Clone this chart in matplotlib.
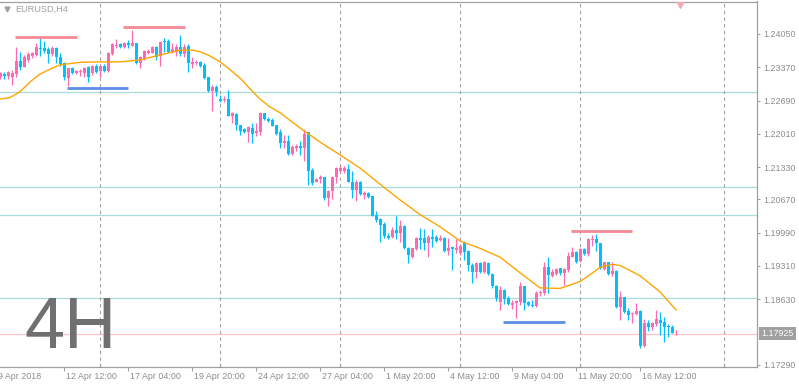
import matplotlib.pyplot as plt
from matplotlib.transforms import blended_transform_factory

plt.rcParams['font.family'] = ['Liberation Sans', 'DejaVu Sans']

# EURUSD H4 candles, one per 4 hours, oldest first
opens = [1.2318, 1.2323, 1.2319, 1.2318, 1.2323, 1.2350, 1.2338, 1.2352, 1.2361, 1.2362,
         1.2376, 1.2376, 1.2374, 1.2364, 1.2376, 1.2357, 1.2345, 1.2315, 1.2335, 1.2326,
         1.2327, 1.2325, 1.2338, 1.2326, 1.2340, 1.2329, 1.2340, 1.2329, 1.2364, 1.2380,
         1.2384, 1.2378, 1.2387, 1.2381, 1.2386, 1.2346, 1.2354, 1.2366, 1.2367, 1.2378,
         1.2359, 1.2391, 1.2391, 1.2369, 1.2369, 1.2378, 1.2364, 1.2381, 1.2344, 1.2345,
         1.2348, 1.2342, 1.2317, 1.2288, 1.2297, 1.2272, 1.2270, 1.2272, 1.2238, 1.2241,
         1.2219, 1.2210, 1.2204, 1.2213, 1.2202, 1.2205, 1.2243, 1.2231, 1.2230, 1.2218,
         1.2204, 1.2183, 1.2187, 1.2159, 1.2173, 1.2177, 1.2171, 1.2204, 1.2128, 1.2103,
         1.2108, 1.2113, 1.2070, 1.2085, 1.2112, 1.2124, 1.2126, 1.2129, 1.2103, 1.2086,
         1.2103, 1.2076, 1.2080, 1.2073, 1.2035, 1.2027, 1.2017, 1.1992, 1.1991, 1.2004,
         1.1998, 1.2013, 1.1968, 1.1949, 1.1965, 1.1989, 1.1989, 1.1978, 1.1991, 1.1991,
         1.1984, 1.1988, 1.1962, 1.1969, 1.1964, 1.1957, 1.1978, 1.1961, 1.1933, 1.1919,
         1.1936, 1.1919, 1.1936, 1.1915, 1.1890, 1.1858, 1.1882, 1.1866, 1.1852, 1.1856,
         1.1858, 1.1889, 1.1858, 1.1851, 1.1849, 1.1875, 1.1875, 1.1929, 1.1911, 1.1914,
         1.1926, 1.1917, 1.1923, 1.1950, 1.1959, 1.1942, 1.1965, 1.1955, 1.1984, 1.1986,
         1.1977, 1.1925, 1.1938, 1.1914, 1.1921, 1.1848, 1.1867, 1.1838, 1.1832, 1.1832,
         1.1838, 1.1767, 1.1814, 1.1807, 1.1812, 1.1820, 1.1817, 1.1808, 1.1807, 1.1791]
highs = [1.2328, 1.2327, 1.2330, 1.2331, 1.2379, 1.2368, 1.2362, 1.2369, 1.2369, 1.2386,
         1.2398, 1.2391, 1.2379, 1.2381, 1.2378, 1.2366, 1.2347, 1.2336, 1.2338, 1.2331,
         1.2334, 1.2338, 1.2340, 1.2342, 1.2343, 1.2342, 1.2344, 1.2368, 1.2386, 1.2395,
         1.2386, 1.2389, 1.2393, 1.2413, 1.2387, 1.2360, 1.2372, 1.2374, 1.2381, 1.2381,
         1.2391, 1.2396, 1.2394, 1.2386, 1.2385, 1.2402, 1.2385, 1.2385, 1.2357, 1.2352,
         1.2350, 1.2345, 1.2318, 1.2301, 1.2301, 1.2280, 1.2278, 1.2291, 1.2245, 1.2243,
         1.2220, 1.2213, 1.2216, 1.2224, 1.2224, 1.2245, 1.2244, 1.2236, 1.2233, 1.2219,
         1.2210, 1.2198, 1.2198, 1.2178, 1.2181, 1.2187, 1.2210, 1.2205, 1.2131, 1.2111,
         1.2117, 1.2113, 1.2087, 1.2115, 1.2134, 1.2138, 1.2135, 1.2139, 1.2124, 1.2107,
         1.2105, 1.2085, 1.2083, 1.2074, 1.2043, 1.2028, 1.2020, 1.1999, 1.2011, 1.2033,
         1.2025, 1.2015, 1.1970, 1.1968, 1.1991, 1.2009, 1.2006, 1.1994, 1.2006, 1.1994,
         1.1994, 1.1991, 1.1989, 1.1970, 1.1987, 1.1974, 1.1982, 1.1964, 1.1936, 1.1938,
         1.1938, 1.1942, 1.1938, 1.1916, 1.1892, 1.1889, 1.1883, 1.1869, 1.1861, 1.1861,
         1.1898, 1.1890, 1.1859, 1.1861, 1.1879, 1.1882, 1.1938, 1.1949, 1.1924, 1.1926,
         1.1927, 1.1926, 1.1960, 1.1969, 1.1961, 1.1967, 1.1967, 1.1989, 1.1994, 1.1997,
         1.1978, 1.1940, 1.1940, 1.1938, 1.1923, 1.1879, 1.1868, 1.1844, 1.1836, 1.1855,
         1.1841, 1.1822, 1.1820, 1.1817, 1.1840, 1.1836, 1.1827, 1.1812, 1.1810, 1.1800]
lows = [1.2312, 1.2313, 1.2312, 1.2301, 1.2318, 1.2331, 1.2338, 1.2348, 1.2355, 1.2361,
        1.2359, 1.2366, 1.2345, 1.2360, 1.2345, 1.2340, 1.2311, 1.2299, 1.2323, 1.2323,
        1.2320, 1.2318, 1.2306, 1.2321, 1.2325, 1.2317, 1.2328, 1.2327, 1.2362, 1.2377,
        1.2376, 1.2376, 1.2376, 1.2381, 1.2344, 1.2335, 1.2352, 1.2364, 1.2366, 1.2352,
        1.2340, 1.2369, 1.2366, 1.2367, 1.2360, 1.2360, 1.2357, 1.2328, 1.2335, 1.2342,
        1.2338, 1.2312, 1.2287, 1.2248, 1.2278, 1.2266, 1.2265, 1.2237, 1.2224, 1.2209,
        1.2198, 1.2202, 1.2185, 1.2182, 1.2197, 1.2198, 1.2229, 1.2225, 1.2216, 1.2198,
        1.2171, 1.2171, 1.2158, 1.2158, 1.2166, 1.2157, 1.2146, 1.2096, 1.2096, 1.2102,
        1.2101, 1.2065, 1.2053, 1.2068, 1.2101, 1.2122, 1.2121, 1.2102, 1.2069, 1.2064,
        1.2076, 1.2067, 1.2069, 1.2032, 1.2020, 1.1980, 1.1989, 1.1987, 1.1989, 1.1987,
        1.1980, 1.1965, 1.1937, 1.1947, 1.1964, 1.1965, 1.1964, 1.1950, 1.1970, 1.1980,
        1.1982, 1.1960, 1.1953, 1.1923, 1.1957, 1.1953, 1.1943, 1.1921, 1.1897, 1.1907,
        1.1917, 1.1917, 1.1912, 1.1885, 1.1859, 1.1841, 1.1854, 1.1851, 1.1842, 1.1824,
        1.1851, 1.1841, 1.1849, 1.1848, 1.1848, 1.1870, 1.1872, 1.1875, 1.1909, 1.1912,
        1.1912, 1.1892, 1.1919, 1.1949, 1.1937, 1.1939, 1.1953, 1.1952, 1.1972, 1.1962,
        1.1924, 1.1923, 1.1912, 1.1910, 1.1846, 1.1820, 1.1835, 1.1820, 1.1815, 1.1830,
        1.1764, 1.1766, 1.1798, 1.1799, 1.1808, 1.1790, 1.1776, 1.1786, 1.1793, 1.1790]
closes = [1.2325, 1.2319, 1.2328, 1.2326, 1.2350, 1.2338, 1.2357, 1.2364, 1.2366, 1.2378,
          1.2374, 1.2371, 1.2364, 1.2377, 1.2357, 1.2344, 1.2317, 1.2335, 1.2325, 1.2330,
          1.2330, 1.2335, 1.2317, 1.2340, 1.2327, 1.2340, 1.2329, 1.2366, 1.2384, 1.2383,
          1.2378, 1.2386, 1.2383, 1.2387, 1.2346, 1.2357, 1.2370, 1.2370, 1.2378, 1.2357,
          1.2388, 1.2388, 1.2369, 1.2374, 1.2379, 1.2364, 1.2379, 1.2345, 1.2348, 1.2348,
          1.2339, 1.2315, 1.2288, 1.2297, 1.2287, 1.2268, 1.2272, 1.2238, 1.2243, 1.2218,
          1.2207, 1.2204, 1.2214, 1.2200, 1.2207, 1.2243, 1.2231, 1.2227, 1.2217, 1.2200,
          1.2183, 1.2187, 1.2159, 1.2175, 1.2176, 1.2171, 1.2201, 1.2125, 1.2101, 1.2109,
          1.2112, 1.2070, 1.2085, 1.2113, 1.2131, 1.2131, 1.2132, 1.2103, 1.2086, 1.2103,
          1.2078, 1.2081, 1.2072, 1.2033, 1.2024, 1.2015, 1.1992, 1.1989, 1.2004, 1.1998,
          1.2013, 1.1967, 1.1953, 1.1967, 1.1989, 1.1984, 1.1978, 1.1991, 1.1986, 1.1982,
          1.1988, 1.1962, 1.1967, 1.1965, 1.1967, 1.1972, 1.1960, 1.1932, 1.1919, 1.1936,
          1.1919, 1.1938, 1.1914, 1.1889, 1.1865, 1.1882, 1.1863, 1.1854, 1.1856, 1.1860,
          1.1889, 1.1856, 1.1851, 1.1849, 1.1876, 1.1878, 1.1929, 1.1912, 1.1918, 1.1924,
          1.1916, 1.1924, 1.1951, 1.1960, 1.1939, 1.1965, 1.1955, 1.1986, 1.1986, 1.1977,
          1.1926, 1.1939, 1.1914, 1.1921, 1.1848, 1.1867, 1.1837, 1.1830, 1.1834, 1.1838,
          1.1767, 1.1815, 1.1807, 1.1814, 1.1822, 1.1815, 1.1807, 1.1806, 1.1794, 1.17925]

# moving average read at a few bars
ma_bars = [0, 2.5, 5, 7.5, 10, 12.5, 15, 20, 25, 30, 35, 40, 45, 48, 50, 52.5, 55, 57.5,
           60, 62.5, 65, 67.5, 70, 75, 80, 85, 90, 95, 100, 105, 110, 115, 120, 125, 130,
           135, 140, 145, 148, 150, 153, 155, 160, 165, 169]
ma_vals = [1.2272, 1.2275, 1.2287, 1.2307, 1.2323, 1.2333, 1.2342, 1.2347, 1.2348, 1.2348,
           1.2352, 1.2362, 1.2372, 1.2372, 1.2369, 1.2360, 1.2348, 1.2332, 1.2315, 1.2293,
           1.2272, 1.2256, 1.2244, 1.2213, 1.2184, 1.2158, 1.2131, 1.2098, 1.2066, 1.2036,
           1.2011, 1.1982, 1.1967, 1.1949, 1.1917, 1.1886, 1.1885, 1.1899, 1.1916, 1.1928,
           1.1934, 1.1932, 1.1911, 1.1878, 1.1841]

levels = [1.2287, 1.2092, 1.2035, 1.1866]
bid = 1.17925

res_prices = [1.2399, 1.2419, 1.2003]
res_from = [3.75, 30.75, 142.75]
res_to = [19.25, 46.25, 158.0]
sup_prices = [1.2295, 1.1817]
sup_from = [16.7, 125.7]
sup_to = [32.0, 141.25]

price_ticks = [1.24050, 1.23370, 1.22690, 1.22010, 1.21330, 1.20670,
               1.19990, 1.19310, 1.18630, 1.17290]
date_bars = [-0.8, 16, 32, 48, 64, 80, 96, 112, 128, 144, 160]
date_labels = ['9 Apr 2018', '12 Apr 12:00', '17 Apr 04:00', '19 Apr 20:00',
               '24 Apr 12:00', '27 Apr 04:00', '1 May 20:00', '4 May 12:00',
               '9 May 04:00', '11 May 20:00', '16 May 12:00']
week_starts = [25, 55, 85, 115, 145, 181]

W, H = 799, 388
fig = plt.figure(figsize=(W / 100, H / 100), dpi=100)
ax = fig.add_axes([0, 1 - 367 / H, 757 / W, 365.5 / H])
ax.set_xlim(0, 757 / 4)
ax.set_ylim(1.17244, 1.24714)

bull, bear = '#FF69B4', '#00BFFF'
for i in range(len(opens)):
    o, h, l, c = opens[i], highs[i], lows[i], closes[i]
    col = bull if c >= o else bear
    ax.vlines(i, l, h, color=col, lw=0.9, zorder=3)
    ax.bar(i, max(abs(c - o), 0.0001), bottom=min(o, c), width=0.75,
           color=col, lw=0, zorder=4)

ax.plot(ma_bars, ma_vals, color='#FFA500', lw=1.0, zorder=5)

for p in levels:
    ax.axhline(p, color='#a8dede', lw=0.9, zorder=1)
ax.axhline(bid, color='#ffc0cb', lw=0.9, zorder=1)
for w in week_starts:
    ax.axvline(w, color='#a0a0a0', lw=0.8, ls=(0, (3, 3)), zorder=1)

for p, a, b in zip(res_prices, res_from, res_to):
    ax.hlines(p, a, b, color='#f48a94', lw=2.0, zorder=6)
for p, a, b in zip(sup_prices, sup_from, sup_to):
    ax.hlines(p, a, b, color='#5b8de6', lw=2.0, zorder=6)

ax.spines['left'].set_visible(False)
for s in ['top', 'right', 'bottom']:
    ax.spines[s].set_color('#a0a0a0')
    ax.spines[s].set_linewidth(0.9)

ax.yaxis.tick_right()
ax.set_yticks(price_ticks)
ax.set_yticklabels(['%.5f' % p for p in price_ticks])
ax.tick_params(axis='y', direction='out', length=2.5, width=0.8, color='#a0a0a0',
               labelcolor='#8c8c8c', labelsize=6.4, pad=2)

ax.set_xticks(date_bars[1:])
ax.set_xticklabels([])
ax.set_xticks(week_starts, minor=True)
ax.tick_params(axis='x', which='major', direction='out', length=3, width=0.8, color='#a0a0a0')
ax.tick_params(axis='x', which='minor', direction='in', length=3, width=0.8, color='#a0a0a0')
trans = blended_transform_factory(ax.transData, ax.transAxes)
for b, lab in zip(date_bars, date_labels):
    ax.text(b + 0.4, -0.025, lab, transform=trans, ha='left', va='center',
            fontsize=6.4, color='#8c8c8c', clip_on=False)

# current price box
fig.text(761 / W, 1 - 333.5 / H, '%.5f' % bid, color='white', fontsize=6.4, va='center',
         ha='left', bbox=dict(boxstyle='square,pad=0.25', fc='#a0a0a0', ec='none'))

fig.text(15 / W, 1 - 9 / H, 'EURUSD,H4', color='#a0a0a0', fontsize=6.6, va='center')
ax.plot([6.5 / 757], [1 - 7.5 / 365.5], marker='v', ms=3.5, color='#a0a0a0',
        transform=ax.transAxes, clip_on=False, zorder=7)
ax.plot([680 / 757], [1 - 2 / 365.5], marker='v', ms=6, color='#f4a8b0',
        transform=ax.transAxes, clip_on=True, zorder=7)

fig.text(24 / W, 1 - 329 / H, '4H', fontsize=52, color='#707070', va='center')

fig.savefig('out.png', dpi=100)
